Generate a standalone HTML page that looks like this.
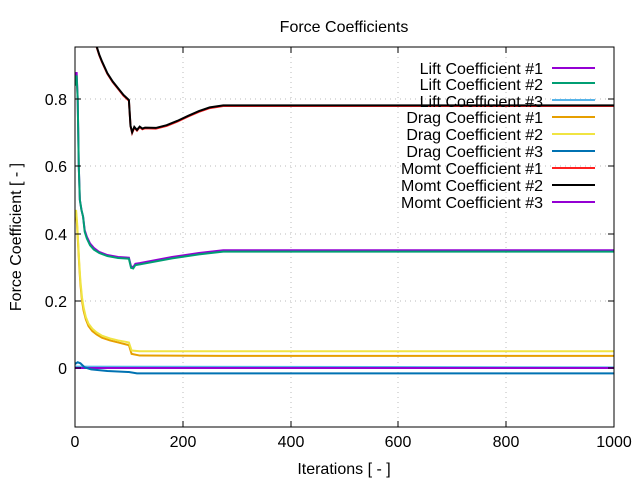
<!DOCTYPE html>
<html><head><meta charset="utf-8"><style>
body{margin:0;background:#fff}
svg text{font-family:"Liberation Sans",sans-serif;font-size:16px;fill:#000}
</style></head><body>
<svg width="640" height="480" viewBox="0 0 640 480" xmlns="http://www.w3.org/2000/svg">
<defs><clipPath id="c"><rect x="75" y="47" width="539" height="380"/></clipPath></defs>
<g stroke="#bbb" stroke-dasharray="1,4" stroke-width="1">
<line x1="183" y1="47" x2="183" y2="427"/><line x1="291" y1="47" x2="291" y2="427"/>
<line x1="398" y1="47" x2="398" y2="427"/><line x1="506" y1="47" x2="506" y2="427"/>
<line x1="75" y1="99" x2="614" y2="99"/><line x1="75" y1="166" x2="614" y2="166"/>
<line x1="75" y1="234" x2="614" y2="234"/><line x1="75" y1="301" x2="614" y2="301"/>
<line x1="75" y1="368" x2="614" y2="368"/>
</g>
<g clip-path="url(#c)"><g transform="translate(75,368) scale(0.539,-336.25)" fill="none" stroke-width="2">
<polyline vector-effect="non-scaling-stroke" stroke="#56b4e9" points="0,0.004 1000,0.002"/>
<polyline vector-effect="non-scaling-stroke" stroke="#9400d3" points="0,0 1000,0"/>
<polyline vector-effect="non-scaling-stroke" stroke="#0072b2" points="0,0.012 5,0.017 10,0.014 18,0.002 30,-0.004 60,-0.009 100,-0.012 115,-0.016 1000,-0.016"/>
<polyline vector-effect="non-scaling-stroke" stroke="#e69f00" points="0,0.44 2,0.46 4,0.42 6,0.36 8,0.3 10,0.25 13,0.2 16,0.17 20,0.145 25,0.125 32,0.11 40,0.1 50,0.09 65,0.082 80,0.076 100,0.068 105,0.042 120,0.037 275,0.036 1000,0.036"/>
<polyline vector-effect="non-scaling-stroke" stroke="#f0e442" points="0,0.45 2,0.47 4,0.43 6,0.37 8,0.31 10,0.26 13,0.21 16,0.18 20,0.152 25,0.132 32,0.117 40,0.106 50,0.096 65,0.088 80,0.082 100,0.076 105,0.052 120,0.05 1000,0.05"/>
<polyline vector-effect="non-scaling-stroke" stroke="#9400d3" points="0,0.84 3,0.88 5,0.8 7,0.6 9,0.5 12,0.47 15,0.45 18,0.41 22,0.39 28,0.37 35,0.357 45,0.345 60,0.336 80,0.33 100,0.328 104,0.302 108,0.3 112,0.31 120,0.312 180,0.33 230,0.342 275,0.35 1000,0.35"/>
<polyline vector-effect="non-scaling-stroke" stroke="#009e73" points="0,0.84 3,0.87 5,0.8 7,0.6 9,0.5 12,0.47 15,0.45 18,0.405 22,0.385 28,0.365 35,0.352 45,0.342 60,0.333 80,0.327 100,0.325 104,0.298 108,0.296 112,0.306 120,0.308 180,0.326 230,0.338 275,0.346 1000,0.346"/>
<polyline vector-effect="non-scaling-stroke" stroke="#ff2020" points="35,0.99 40,0.955 45,0.93 50,0.91 60,0.875 70,0.85 80,0.83 90,0.81 100,0.795 103,0.72 106,0.699 110,0.715 115,0.706 120,0.716 125,0.71 130,0.713 150,0.712 170,0.72 190,0.733 210,0.748 230,0.762 250,0.773 275,0.779 1000,0.779"/>
<polyline vector-effect="non-scaling-stroke" stroke="#000" points="35,0.99 40,0.957 45,0.932 50,0.912 60,0.877 70,0.852 80,0.832 90,0.812 100,0.797 103,0.72 106,0.701 110,0.717 115,0.708 120,0.718 125,0.712 130,0.715 150,0.714 170,0.722 190,0.735 210,0.75 230,0.764 250,0.775 275,0.781 1000,0.781"/>
</g></g>
<rect x="75" y="47" width="539" height="380" fill="none" stroke="#000" stroke-width="1"/>
<g stroke="#000">
<line x1="75" y1="99" x2="81" y2="99"/><line x1="75" y1="166" x2="81" y2="166"/><line x1="75" y1="234" x2="81" y2="234"/><line x1="75" y1="301" x2="81" y2="301"/><line x1="75" y1="368" x2="81" y2="368"/>
<line x1="614" y1="99" x2="608" y2="99"/><line x1="614" y1="166" x2="608" y2="166"/><line x1="614" y1="234" x2="608" y2="234"/><line x1="614" y1="301" x2="608" y2="301"/><line x1="614" y1="368" x2="608" y2="368"/>
<line x1="183" y1="427" x2="183" y2="421"/><line x1="291" y1="427" x2="291" y2="421"/><line x1="398" y1="427" x2="398" y2="421"/><line x1="506" y1="427" x2="506" y2="421"/>
<line x1="183" y1="47" x2="183" y2="53"/><line x1="291" y1="47" x2="291" y2="53"/><line x1="398" y1="47" x2="398" y2="53"/><line x1="506" y1="47" x2="506" y2="53"/>
</g>
<g text-anchor="end">
<text x="67" y="105">0.8</text><text x="67" y="172">0.6</text><text x="67" y="240">0.4</text><text x="67" y="307">0.2</text><text x="67" y="374">0</text>
</g>
<g text-anchor="middle">
<text x="75" y="447">0</text><text x="183" y="447">200</text><text x="291" y="447">400</text><text x="398" y="447">600</text><text x="506" y="447">800</text><text x="614" y="447">1000</text>
<text x="344" y="474">Iterations [ - ]</text>
<text x="344" y="32">Force Coefficients</text>
<text transform="translate(21,237) rotate(-90)">Force Coefficient [ - ]</text>
</g>
<g text-anchor="end">
<text x="543" y="74">Lift Coefficient #1</text><text x="543" y="90">Lift Coefficient #2</text><text x="543" y="107">Lift Coefficient #3</text>
<text x="543" y="123">Drag Coefficient #1</text><text x="543" y="140">Drag Coefficient #2</text><text x="543" y="157">Drag Coefficient #3</text>
<text x="543" y="174">Momt Coefficient #1</text><text x="543" y="191">Momt Coefficient #2</text><text x="543" y="208">Momt Coefficient #3</text>
</g>
<g stroke-width="2">
<line x1="552" y1="68" x2="595" y2="68" stroke="#9400d3"/><line x1="552" y1="83" x2="595" y2="83" stroke="#009e73"/><line x1="552" y1="100" x2="595" y2="100" stroke="#56b4e9"/>
<line x1="552" y1="117" x2="595" y2="117" stroke="#e69f00"/><line x1="552" y1="134" x2="595" y2="134" stroke="#f0e442"/><line x1="552" y1="151" x2="595" y2="151" stroke="#0072b2"/>
<line x1="552" y1="168" x2="595" y2="168" stroke="#ff2020"/><line x1="552" y1="185" x2="595" y2="185" stroke="#000"/><line x1="552" y1="202" x2="595" y2="202" stroke="#9400d3"/>
</g>
</svg>
</body></html>
